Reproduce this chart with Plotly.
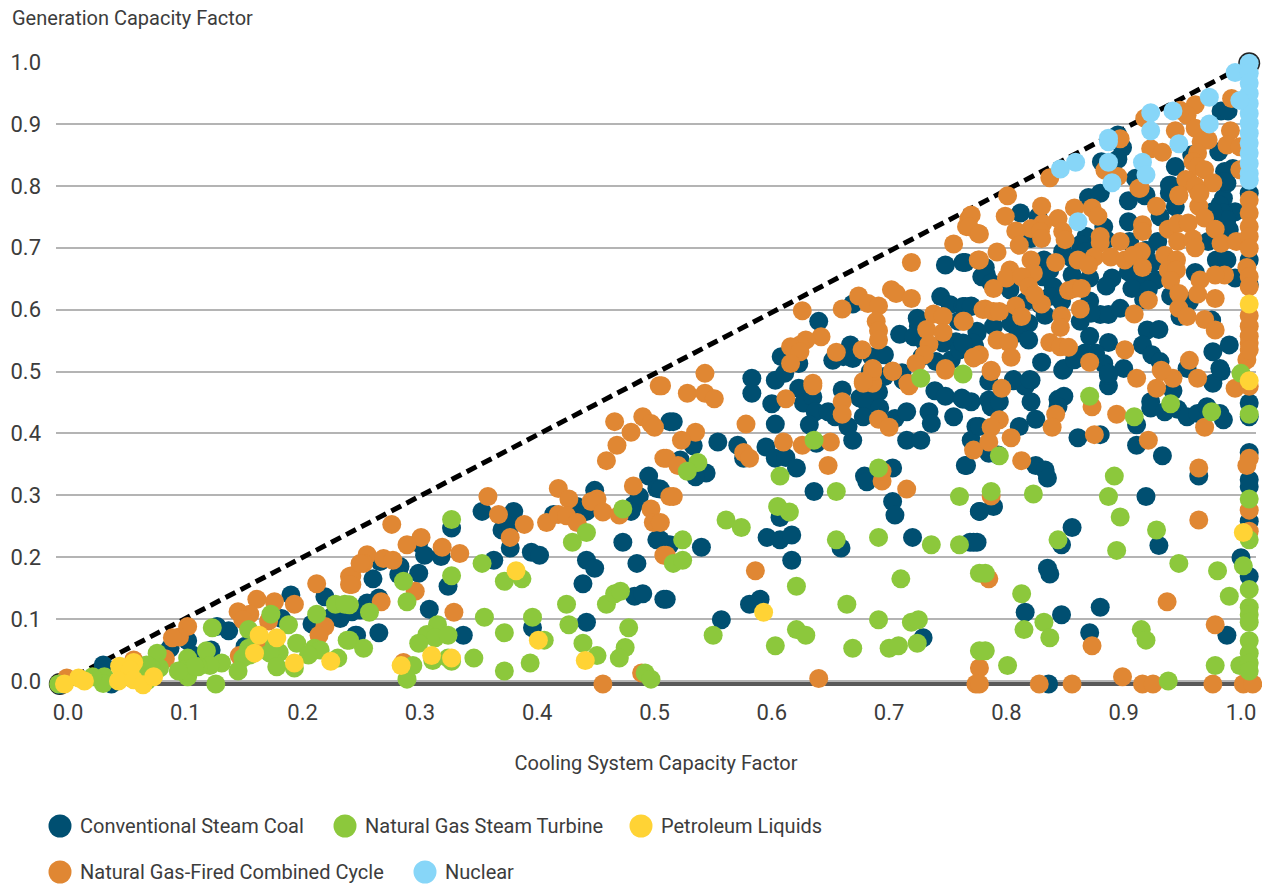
import plotly.graph_objects as go

# Values: (cooling capacity factor, generation capacity factor)
coal = [(.513,.419),(.495,.331),(.502,.311),(.487,.298),(.482,.284),(.480,.274),(.449,.308),(.434,.282),(.442,.274),(.414,.269),(.353,.274),(.380,.274),(.370,.244),(.377,.250),(.377,.215),(.327,.247),(.299,.223),(.304,.203),(.318,.201),(.266,.193),(.283,.185),(.282,.172),(.299,.174),(.260,.165),(.324,.153),(.265,.134),(.255,.126),(.249,.115),(.242,.112),(.308,.116),(.363,.195),(.395,.208),(.402,.203),(.473,.224),(.502,.228),(.510,.220),(.485,.190),(.442,.195),(.449,.182),(.439,.157),(.483,.137),(.490,.141),(.508,.132),(.442,.095),(.396,.086),(.337,.074),(.265,.078),(.246,.074),
(.190,.139),(.219,.136),(.182,.101),(.137,.081),(.127,.088),(.208,.092),(.232,.101),(.225,.104),(.249,.115),(.245,.074),(.102,.065),(.087,.053),(.106,.042),(.122,.050),(.151,.056),(.030,.026),(.037,-.005),(-.007,-.006),
(.583,.489),(.583,.465),(.603,.486),(.611,.497),(.600,.448),(.623,.473),(.627,.449),(.635,.459),(.637,.435),(.648,.435),(.654,.427),(.660,.470),(.675,.457),(.681,.470),(.681,.449),(.691,.467),(.692,.441),(.678,.427),(.705,.424),(.715,.435),(.696,.492),(.712,.486),(.739,.469),(.748,.460),(.762,.457),(.770,.451),(.734,.435),(.736,.416),(.755,.427),(.774,.411),(.770,.389),(.603,.415),(.516,.419),(.632,.414),(.665,.411),(.669,.389),(.715,.389),(.727,.389),(.554,.386),(.571,.381),(.533,.380),(.595,.378),(.603,.360),(.612,.361),(.621,.344),(.638,.384),(.522,.357),(.576,.360),(.544,.336),(.535,.330),(.679,.331),(.681,.322),(.703,.344),(.765,.348),(.636,.306),(.505,.310),(.703,.290),(.705,.268),(.607,.264),(.596,.232),(.607,.228),(.617,.236),(.513,.220),(.540,.216),(.505,.228),(.659,.215),(.720,.232),(.772,.224),(.617,.195),(.510,.132),(.581,.124),(.590,.132),(.557,.099),(.729,.070),(.777,.274),
(.785,.484),(.806,.485),(.816,.476),(.821,.486),(.763,.455),(.785,.454),(.787,.443),(.794,.451),(.821,.451),(.825,.423),(.844,.455),(.849,.460),(.844,.443),(.887,.477),(.887,.494),(.848,.502),(.923,.451),(.923,.441),(.942,.469),(.935,.435),(.946,.439),(.954,.427),(.963,.432),(.971,.443),(.976,.481),(.983,.500),(.982,.432),(.985,.422),(.811,.411),(.777,.411),(.785,.368),(.793,.365),(.766,.348),(.825,.348),(.833,.341),(.835,.328),(.861,.393),(.880,.398),(.911,.414),(.911,.381),(.933,.364),(.964,.331),(1.007,.369),(1.007,.325),(1.007,.314),(1.007,.449),(1.007,.427),(1.007,.258),(.789,.282),(.777,.274),(.856,.248),(.847,.220),(.919,.298),(.930,.219),(.769,.224),(.775,.224),(1.0,.199),(1.007,.169),(.835,.182),(.837,.173),(.816,.111),(.847,.107),(.880,.119),(.871,.078),(.988,.074),(.836,-.005),
(.748,.672),(.763,.676),(.744,.621),(.752,.608),(.763,.605),(.770,.606),(.779,.653),(.669,.609),(.640,.581),(.724,.586),(.725,.573),(.709,.560),(.721,.556),(.730,.548),(.746,.546),(.757,.548),(.775,.562),(.759,.581),(.667,.543),(.608,.524),(.623,.513),(.652,.518),(.661,.524),(.669,.521),(.685,.524),(.696,.527),(.728,.524),(.740,.516),(.753,.519),(.760,.535),(.773,.540),(.684,.500),(.711,.498),
(.812,.756),(.827,.750),(.870,.781),(.880,.788),(.904,.776),(.919,.785),(.939,.801),(.939,.788),(.944,.766),(.931,.750),(.904,.742),(.985,.780),(.988,.804),(.982,.769),(.995,.758),(.985,.756),(.988,.745),(.976,.758),(.883,.734),(.868,.718),(.863,.705),(.848,.694),(.856,.683),(.868,.694),(.885,.713),(.905,.710),(.919,.696),(.929,.710),(.924,.675),(.928,.648),(.904,.661),(.915,.653),(.972,.710),(.990,.729),(.979,.680),(.988,.680),(.995,.651),(.961,.660),(.765,.676),(.782,.668),(.783,.656),(.787,.643),(.803,.632),(.816,.613),(.821,.715),(.832,.680),(.837,.664),(.831,.653),(.840,.637),(.837,.621),(.847,.613),(.829,.608),(.833,.591),(.856,.656),(.871,.651),(.890,.651),(.885,.638),(.907,.634),(.921,.632),(.917,.616),(.940,.622),(.956,.613),(.871,.614),(.863,.581),(.880,.592),(.887,.592),(.897,.602),(.872,.594),(.804,.594),(.804,.578),(.819,.578),(.810,.562),(.819,.551),(.789,.573),(.775,.565),(.772,.546),(.763,.546),(.765,.605),(.770,.605),(.871,.557),(.887,.547),(.920,.567),(.930,.568),(.916,.543),(.924,.527),(.931,.516),(.976,.532),(.982,.505),(.990,.543),(.830,.515),(.849,.505),(.858,.519),(.867,.530),(.876,.530),(.883,.513),(.900,.505),(.806,.487),(.820,.487),(.887,.497),(.954,.505),(.948,.589),(.975,.583),
(.983,.921),(.989,.921),(.895,.882),(.899,.862),(.895,.843),(.881,.839),(.958,.850),(.981,.855),(.993,.828),(.986,.823),(.986,.807),(.944,.831),(.940,.801),(.910,.812),(.918,.784),(1.007,.788),(1.007,.68),(1.007,.64)]

ngcc = [(.504,.477),(.466,.419),(.490,.427),(.497,.416),(.500,.410),(.480,.402),(.468,.381),(.459,.356),(.508,.360),(.482,.315),(.513,.298),(.451,.294),(.446,.290),(.456,.273),(.497,.278),(.499,.256),(.470,.268),(.418,.311),(.427,.294),(.358,.298),(.367,.269),(.389,.253),(.408,.256),(.418,.269),(.425,.267),(.434,.256),(.276,.253),(.377,.232),(.508,.203),(.301,.232),(.289,.220),(.319,.216),(.334,.206),(.255,.204),(.252,.190),(.269,.198),(.277,.195),(.242,.170),(.242,.156),(.296,.145),(.267,.128),(.329,.111),(.286,.030),(.456,-.005),(.489,.013),
(.212,.157),(.240,.169),(.240,.156),(.161,.132),(.176,.128),(.193,.124),(.145,.112),(.155,.108),(.149,.099),(.171,.097),(.219,.088),(.214,.074),(.102,.088),(.095,.071),(.089,.070),(.146,.041),(.056,.034),(.083,.036),(.162,.067),(-.001,.005),(.249,.190),
(.543,.497),(.506,.477),(.528,.465),(.543,.465),(.551,.456),(.635,.477),(.612,.456),(.660,.451),(.660,.431),(.678,.481),(.686,.481),(.686,.500),(.703,.500),(.717,.477),(.748,.502),(.691,.423),(.700,.410),(.578,.415),(.535,.402),(.523,.389),(.610,.386),(.626,.381),(.650,.386),(.576,.369),(.581,.360),(.510,.360),(.520,.348),(.648,.348),(.694,.323),(.694,.339),(.715,.310),(.516,.298),(.772,.373),(.510,.203),(.586,.178),(.640,.004),(.777,.021),(.774,-.005),(.505,.256),
(.787,.500),(.796,.473),(.911,.489),(.933,.500),(.942,.489),(.928,.473),(.963,.489),(.995,.473),(1.007,.476),(.873,.443),(.894,.431),(.842,.431),(.839,.410),(.794,.422),(.787,.410),(.804,.393),(.785,.386),(.875,.398),(.921,.389),(.969,.410),(.813,.356),(.964,.344),(.787,.299),(.964,.260),(1.007,.360),(1.005,.348),(1.007,.276),(1.007,.242),(.785,.165),(.937,.128),(.978,.091),(.873,.057),(.777,-.005),(.828,-.005),(.856,-.005),(.899,.007),(.916,-.005),(.925,-.005),(.976,-.005),(1.002,-.005),(1.010,-.005),
(.768,.747),(.766,.734),(.776,.723),(.755,.706),(.719,.676),(.776,.680),(.702,.632),(.706,.626),(.719,.618),(.674,.622),(.682,.610),(.691,.606),(.660,.601),(.626,.598),(.689,.581),(.691,.566),(.691,.551),(.642,.556),(.629,.551),(.624,.543),(.616,.540),(.624,.532),(.616,.513),(.655,.531),(.677,.535),(.738,.593),(.746,.589),(.763,.581),(.732,.568),(.746,.563),(.734,.544),(.730,.527),(.723,.513),(.772,.523),(.748,.505),(.686,.505),(.703,.501),(.780,.600),(.635,.481),(.678,.484),(.716,.481),
(.801,.784),(.770,.753),(.768,.734),(.777,.722),(.799,.751),(.830,.767),(.858,.764),(.873,.764),(.878,.751),(.844,.747),(.831,.739),(.821,.731),(.829,.726),(.830,.715),(.808,.727),(.811,.704),(.848,.726),(.850,.713),(.880,.718),(.880,.708),(.897,.710),(.792,.693),(.777,.680),(.821,.680),(.842,.676),(.861,.680),(.875,.685),(.870,.672),(.889,.685),(.901,.680),(.915,.694),(.908,.688),(.916,.668),(.916,.737),(.916,.726),(.928,.767),(.947,.784),(.914,.796),(.956,.807),(.964,.788),(.964,.767),(.969,.748),(.978,.730),(.938,.730),(.946,.739),(.955,.740),(.946,.710),(.959,.714),(.961,.700),(.983,.707),(.996,.710),(1.007,.777),(1.007,.756),(1.007,.734),(1.007,.718),(1.007,.699),(.935,.688),(.945,.680),(.938,.664),(.945,.664),(.940,.647),(1.005,.668),(1.007,.653),(1.007,.637),(.986,.656),(.978,.656),(.965,.648),(.963,.625),(.978,.618),(.947,.626),(.947,.602),(.954,.589),(.969,.584),(.978,.567),(.921,.615),(.909,.593),(.863,.601),(.847,.590),(.846,.571),(.830,.609),(.808,.606),(.813,.589),(.853,.631),(.858,.634),(.864,.634),(.803,.664),(.800,.651),(.823,.659),(.813,.653),(.819,.637),(.824,.624),(.789,.634),(.782,.601),(.789,.597),(.794,.597),(.764,.581),(.792,.551),(.802,.547),(.777,.527),(.772,.522),(.804,.523),(.787,.502),(.837,.547),(.846,.540),(.853,.539),(.901,.535),(.871,.515),(.956,.518),(.932,.502),(1.007,.590),(1.007,.573),(1.007,.546),(1.005,.519),(1.007,.557),(1.007,.535),
(.961,.931),(.954,.914),(.948,.922),(.992,.941),(.944,.889),(.961,.893),(.991,.889),(.972,.874),(.966,.871),(.988,.866),(.999,.863),(.923,.860),(.933,.854),(.897,.876),(.918,.909),(.963,.853),(.959,.839),(.963,.831),(.969,.826),(.976,.805),(.999,.826),(.884,.825),(.895,.815),(.837,.813),(.913,.796),(.953,.810),(.961,.800),(.947,.785),(.965,.788)]

gas_steam = [(.327,.261),(.473,.278),(.353,.190),(.327,.170),(.286,.161),(.372,.161),(.387,.165),(.442,.240),(.430,.224),(.289,.128),(.257,.111),(.240,.123),(.425,.124),(.459,.124),(.466,.141),(.471,.145),(.355,.103),(.396,.103),(.315,.091),(.306,.075),(.313,.070),(.324,.074),(.299,.061),(.372,.078),(.427,.091),(.478,.086),(.439,.061),(.406,.066),(.475,.054),(.470,.037),(.451,.041),(.346,.037),(.311,.033),(.327,.032),(.324,.037),(.294,.025),(.394,.029),(.372,.016),(.289,.003),(.492,.013),(.497,.003),(.252,.053),(.240,.066),
(.123,.086),(.173,.108),(.154,.083),(.212,.108),(.188,.091),(.228,.124),(.236,.124),(.195,.061),(.238,.066),(.210,.053),(.215,.050),(.205,.042),(.176,.058),(.180,.046),(.172,.045),(.154,.053),(.155,.042),(.149,.037),(.178,.023),(.193,.021),(.230,.037),(.118,.049),(.076,.045),(.131,.029),(.121,.025),(.111,.023),(.102,.037),(.098,.018),(.102,.007),(.108,.024),(.094,.016),(.145,.016),(.126,-.005),(.078,.021),(.071,.021),(.067,.026),(.031,.007),(.030,-.004),(.021,.007),(-.008,-.005),(.067,.0),(.061,.007),
(.727,.489),(.763,.496),(.636,.389),(.537,.353),(.528,.339),(.607,.331),(.691,.344),(.655,.306),(.760,.298),(.605,.282),(.615,.273),(.561,.260),(.574,.248),(.524,.228),(.655,.228),(.691,.232),(.736,.220),(.760,.220),(.516,.190),(.524,.195),(.710,.165),(.621,.153),(.777,.174),(.664,.124),(.691,.099),(.719,.095),(.725,.099),(.550,.074),(.621,.083),(.629,.074),(.603,.057),(.669,.053),(.700,.053),(.708,.057),(.724,.061),(.777,.049),
(.871,.460),(.940,.448),(.909,.427),(.975,.435),(1.0,.497),(1.007,.431),(.794,.364),(.892,.331),(.787,.306),(.823,.302),(.887,.298),(1.007,.294),(.897,.265),(.928,.244),(.844,.228),(.894,.211),(1.007,.228),(.947,.190),(.980,.178),(1.002,.186),(.782,.174),(.813,.141),(1.007,.148),(.990,.137),(1.007,.119),(1.007,.107),(1.007,.095),(.832,.095),(.815,.083),(.837,.070),(.915,.083),(.919,.066),(.782,.049),(.801,.025),(.978,.025),(.999,.025),(1.007,.065),(1.007,.045),(1.007,.029),(1.007,.016),(.938,.0)]

petroleum = [(.382,.178),(.401,.066),(.310,.041),(.327,.037),(.284,.025),(.441,.033),(.163,.074),(.178,.070),(.159,.045),(.193,.029),(.224,.032),(.044,.024),(.056,.030),(.053,.018),(.043,.0),(.056,.002),(.064,-.006),(.073,.007),(.009,.005),(.014,.0),(-.003,-.005),(.593,.111),(1.007,.485),(1.002,.240),(1.007,.609)]

nuclear = [(1.007,.998),(.995,.983),(1.007,.982),(1.007,.966),(1.007,.949),(1.007,.933),(1.007,.917),(1.007,.901),(1.007,.885),(1.007,.869),(1.007,.853),(1.007,.836),(1.007,.820),(1.007,.809),(.999,.938),(.973,.943),(.973,.900),(.942,.921),(.923,.918),(.923,.889),(.947,.868),(.887,.877),(.887,.871),(.887,.838),(.890,.805),(.916,.838),(.919,.818),(.859,.838),(.846,.827),(.861,.742)]

parity_x = [-.007, 1.007]
parity_y = [-.005, .998]
baseline_y = -.005

axis_ticks = [0.0, 0.1, 0.2, 0.3, 0.4, 0.5, 0.6, 0.7, 0.8, 0.9, 1.0]
x_title = "Cooling System Capacity Factor"
y_title = "Generation Capacity Factor"

FONT = "Roboto, sans-serif"
SIZE = 20
TEXT = "#3c3c3c"
PX_L, PX_R, PX_T, PX_B = 56, 1256, 62, 686
px_x = lambda p: (p - PX_L) / (PX_R - PX_L)
px_y = lambda p: (PX_B - p) / (PX_B - PX_T)

series = [
    ("Conventional Steam Coal", coal, "#004F71", 60, 826),
    ("Natural Gas-Fired Combined Cycle", ngcc, "#E08733", 60, 872),
    ("Natural Gas Steam Turbine", gas_steam, "#8CC83C", 345, 826),
    ("Petroleum Liquids", petroleum, "#FFD335", 641, 826),
    ("Nuclear", nuclear, "#87D6F8", 425, 872),
]

fig = go.Figure()
fig.add_trace(go.Scatter(
    x=parity_x, y=parity_y, mode="lines+markers", showlegend=False, hoverinfo="skip",
    line=dict(color="#000000", width=5, dash="11px,6px"),
    marker=dict(color="#222222", size=22), cliponaxis=False))

shapes = [dict(type="line", xref="paper", yref="y", x0=0, x1=1, y0=baseline_y, y1=baseline_y,
               line=dict(color="#595959", width=4), layer="below")]
notes = []
for name, pts, color, lx, ly in series:
    fig.add_trace(go.Scatter(
        x=[p[0] for p in pts], y=[p[1] for p in pts], mode="markers", name=name,
        marker=dict(color=color, size=19, line=dict(width=0)), cliponaxis=False, showlegend=False))
    shapes.append(dict(type="circle", xref="paper", yref="paper",
                       xsizemode="pixel", ysizemode="pixel",
                       xanchor=px_x(lx), yanchor=px_y(ly), x0=-11.5, x1=11.5, y0=-11.5, y1=11.5,
                       fillcolor=color, line=dict(width=0)))
    notes.append(dict(text=name, xref="paper", yref="paper", x=px_x(lx + 18), y=px_y(ly),
                      xanchor="left", yanchor="middle", showarrow=False,
                      font=dict(family=FONT, size=SIZE, color=TEXT)))

notes.append(dict(text=y_title, xref="paper", yref="paper", x=px_x(10), y=px_y(18),
                  xanchor="left", yanchor="middle", showarrow=False,
                  font=dict(family=FONT, size=SIZE, color=TEXT)))

fig.update_layout(
    width=1262, height=886, autosize=False, showlegend=False,
    margin=dict(l=PX_L, r=1262 - PX_R, t=PX_T, b=886 - PX_B),
    paper_bgcolor="white", plot_bgcolor="white",
    font=dict(family=FONT, size=SIZE, color=TEXT),
    shapes=shapes, annotations=notes,
    xaxis=dict(range=[-0.01023, 1.01279], tickvals=axis_ticks, tickformat=".1f",
               showgrid=False, zeroline=False, showline=False,
               ticks="", ticklabelstandoff=11, tickfont=dict(family=FONT, size=22, color=TEXT),
               title=dict(text=x_title, standoff=31, font=dict(family=FONT, size=SIZE, color=TEXT))),
    yaxis=dict(range=[-0.00808, 1.0], tickvals=axis_ticks, tickformat=".1f",
               showgrid=True, gridcolor="#B4B4B4", gridwidth=1.5, zeroline=False, showline=False,
               ticks="", ticklabelstandoff=14, tickfont=dict(family=FONT, size=22, color=TEXT)),
)

fig.write_html("out.html", config={"displayModeBar": False},
               post_script="document.body.style.margin='0';")
